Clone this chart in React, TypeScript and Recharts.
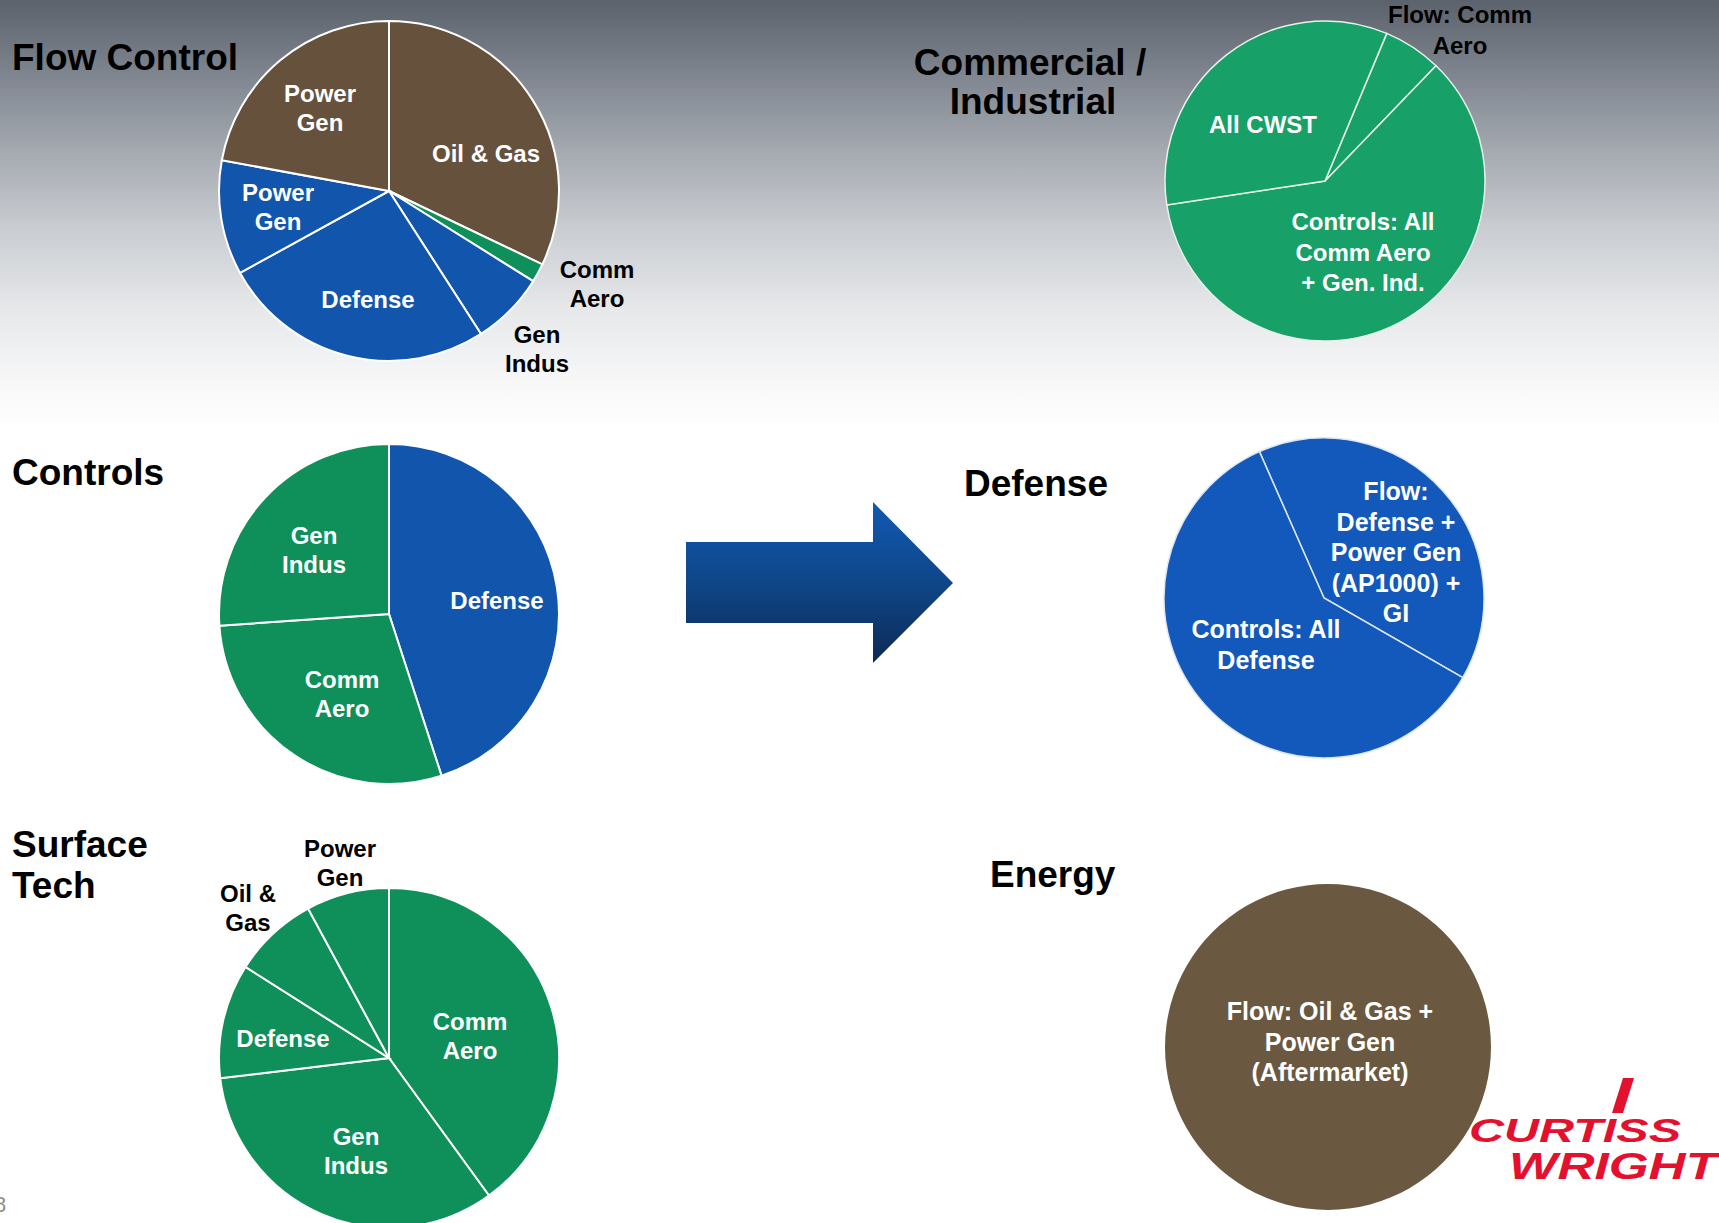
import React from 'react';
import { PieChart, Pie, Cell } from 'recharts';

const W = 1719;
const H = 1223;
const FONT = '"Liberation Sans", Arial, Helvetica, sans-serif';

// ---------- data ----------
const flowCategories = ['Oil & Gas', 'Comm\nAero', 'Gen\nIndus', 'Defense', 'Power\nGen', 'Power\nGen'];
const flowValues = [32.1, 1.8, 7.0, 26.1, 10.9, 22.1];
const flowSegments = ['Energy', 'Commercial', 'Defense', 'Defense', 'Defense', 'Energy'];

const controlsCategories = ['Defense', 'Comm\nAero', 'Gen\nIndus'];
const controlsValues = [45.0, 28.9, 26.1];
const controlsSegments = ['Defense', 'Commercial', 'Commercial'];

const surfaceCategories = ['Comm\nAero', 'Gen\nIndus', 'Defense', 'Oil &\nGas', 'Power\nGen'];
const surfaceValues = [40.0, 33.1, 10.9, 8.1, 7.9];
const surfaceSegments = ['Commercial', 'Commercial', 'Commercial', 'Commercial', 'Commercial'];

const commercialCategories = ['Flow: Comm\nAero', 'Controls: All\nComm Aero\n+ Gen. Ind.', 'All CWST'];
const commercialValues = [5.9, 60.4, 33.7];
const commercialSegments = ['Commercial', 'Commercial', 'Commercial'];

const defenseCategories = ['Flow:\nDefense +\nPower Gen\n(AP1000) +\nGI', 'Controls: All\nDefense'];
const defenseValues = [39.9, 60.1];
const defenseSegments = ['Defense', 'Defense'];

const energyCategories = ['Flow: Oil & Gas +\nPower Gen\n(Aftermarket)'];
const energyValues = [100];
const energySegments = ['Energy'];

const build = (cats: string[], vals: number[], segs: string[]) =>
  cats.map((name, i) => ({ name, value: vals[i], segment: segs[i] }));

// ---------- styles / layout ----------
const leftPalette: Record<string, string> = { Energy: '#66513d', Defense: '#1155ad', Commercial: '#0f905a' };
const rightPalette: Record<string, string> = { Energy: '#6b5840', Defense: '#1358bb', Commercial: '#17a067' };

const flowLabelPos = [[97, -29], [208, 87], [148, 152], [-21, 117], [-111, 10], [-69, -89]];
const flowLabelOut = [false, true, true, false, false, false];
const controlsLabelPos = [[108, -5], [-47, 74], [-75, -70]];
const controlsLabelOut = [false, false, false];
const surfaceLabelPos = [[81, -28], [-33, 87], [-106, -11], [-141, -156], [-49, -201]];
const surfaceLabelOut = [false, false, false, true, true];
const commercialLabelPos = [[135, -158], [38, 49], [-62, -48]];
const commercialLabelOut = [true, false, false];
const defenseLabelPos = [[72, -98], [-58, 40]];
const defenseLabelOut = [false, false];
const energyLabelPos = [[2, -27]];
const energyLabelOut = [false];

const makeLabel = (
  center: [number, number],
  pos: number[][],
  out: boolean[],
  lineH: number,
  fontSize: number
) => (props: any) => {
  const cx = typeof props.cx === 'number' ? props.cx : center[0];
  const cy = typeof props.cy === 'number' ? props.cy : center[1];
  const idx = props.index ?? 0;
  const [dx, dy] = pos[idx];
  const name = (props.payload && props.payload.name) || props.name || '';
  const lines = String(name).split('\n');
  const x = cx + dx;
  return (
    <text
      key={`lbl-${idx}`}
      x={x}
      y={cy + dy}
      textAnchor="middle"
      fill={out[idx] ? '#000000' : '#ffffff'}
      fontSize={fontSize}
      fontWeight="bold"
      fontFamily={FONT}
    >
      {lines.map((l, i) => (
        <tspan key={i} x={x} dy={i === 0 ? 0 : lineH}>
          {l}
        </tspan>
      ))}
    </text>
  );
};

type PieCfg = {
  data: { name: string; value: number; segment: string }[];
  center: [number, number];
  r: number;
  start: number;
  palette: Record<string, string>;
  pos: number[][];
  out: boolean[];
  lineH: number;
  fontSize: number;
  stroke: string;
  strokeWidth: number;
};

const pies: PieCfg[] = [
  {
    data: build(flowCategories, flowValues, flowSegments),
    center: [389, 191], r: 170, start: 90, palette: leftPalette,
    pos: flowLabelPos, out: flowLabelOut, lineH: 29, fontSize: 24, stroke: '#ffffff', strokeWidth: 2,
  },
  {
    data: build(controlsCategories, controlsValues, controlsSegments),
    center: [389, 614], r: 170, start: 90, palette: leftPalette,
    pos: controlsLabelPos, out: controlsLabelOut, lineH: 29, fontSize: 24, stroke: '#ffffff', strokeWidth: 2,
  },
  {
    data: build(surfaceCategories, surfaceValues, surfaceSegments),
    center: [389, 1058], r: 170, start: 90, palette: leftPalette,
    pos: surfaceLabelPos, out: surfaceLabelOut, lineH: 28.5, fontSize: 24, stroke: '#ffffff', strokeWidth: 2,
  },
  {
    data: build(commercialCategories, commercialValues, commercialSegments),
    center: [1325, 181], r: 160, start: 67.3, palette: rightPalette,
    pos: commercialLabelPos, out: commercialLabelOut, lineH: 30.5, fontSize: 24, stroke: '#e6f2ea', strokeWidth: 1.5,
  },
  {
    data: build(defenseCategories, defenseValues, defenseSegments),
    center: [1324, 598], r: 160, start: 113.8, palette: rightPalette,
    pos: defenseLabelPos, out: defenseLabelOut, lineH: 30.5, fontSize: 25, stroke: '#dde6f2', strokeWidth: 1.5,
  },
  {
    data: build(energyCategories, energyValues, energySegments),
    center: [1328, 1047], r: 163, start: 90, palette: rightPalette,
    pos: energyLabelPos, out: energyLabelOut, lineH: 30.5, fontSize: 25, stroke: 'none', strokeWidth: 0,
  },
];

const titleStyle = { fontFamily: FONT, fontWeight: 'bold' as const, fontSize: 37, fill: '#000' };

export default function App() {
  return (
    <div
      style={{
        position: 'absolute',
        left: 0,
        top: 0,
        width: W,
        height: H,
        overflow: 'hidden',
        background:
          'linear-gradient(to bottom, #5c626c 0px, #7d838d 70px, #a4a9b0 150px, #cacdd2 230px, #e6e8ea 310px, #f7f7f8 380px, #ffffff 430px, #ffffff 100%)',
      }}
    >
      <div style={{ position: 'absolute', left: 0, top: 0 }}>
        <PieChart width={W} height={H} margin={{ top: 0, right: 0, bottom: 0, left: 0 }}>
          {pies.map((p, pi) => (
            <Pie
              key={pi}
              data={p.data}
              dataKey="value"
              nameKey="name"
              cx={p.center[0]}
              cy={p.center[1]}
              innerRadius={0}
              outerRadius={p.r}
              startAngle={p.start}
              endAngle={p.start - 360}
              stroke={p.stroke}
              strokeWidth={p.strokeWidth}
              isAnimationActive={false}
              labelLine={false}
              label={makeLabel(p.center, p.pos, p.out, p.lineH, p.fontSize)}
            >
              {p.data.map((d, i) => (
                <Cell key={i} fill={p.palette[d.segment]} />
              ))}
            </Pie>
          ))}
        </PieChart>
      </div>
      <svg
        width={W}
        height={H}
        style={{ position: 'absolute', left: 0, top: 0, pointerEvents: 'none' }}
      >
        <defs>
          <linearGradient id="arrowGrad" x1="0" y1="502" x2="0" y2="663" gradientUnits="userSpaceOnUse">
            <stop offset="0" stopColor="#1259b2" />
            <stop offset="0.5" stopColor="#0f4688" />
            <stop offset="1" stopColor="#0d2a55" />
          </linearGradient>
        </defs>
        {/* Titles */}
        <text x={12} y={70} {...titleStyle}>Flow Control</text>
        <text x={12} y={485} {...titleStyle}>Controls</text>
        <text x={12} y={857} {...titleStyle}>Surface</text>
        <text x={12} y={898} {...titleStyle}>Tech</text>
        <text x={1030} y={75} textAnchor="middle" {...titleStyle}>Commercial /</text>
        <text x={1033} y={114} textAnchor="middle" {...titleStyle}>Industrial</text>
        <text x={964} y={496} {...titleStyle}>Defense</text>
        <text x={990} y={887} {...titleStyle}>Energy</text>

        {/* Arrow */}
        <polygon
          points="686,542 873,542 873,502 953,583 873,663 873,623 686,623"
          fill="url(#arrowGrad)"
        />

        {/* Logo */}
        <polygon points="1623,1078 1634,1078 1623,1113 1612,1113" fill="#e3102e" />
        <text
          x={1469}
          y={1142}
          fontFamily={FONT}
          fontWeight={900}
          fontStyle="italic"
          fontSize={34}
          fill="#e3102e"
          textLength={212}
          lengthAdjust="spacingAndGlyphs"
        >
          CURTISS
        </text>
        <text
          x={1509}
          y={1179}
          fontFamily={FONT}
          fontWeight={900}
          fontStyle="italic"
          fontSize={36}
          fill="#e3102e"
          textLength={208}
          lengthAdjust="spacingAndGlyphs"
        >
          WRIGHT
        </text>

        {/* page number */}
        <text x={-6} y={1212} fontFamily={FONT} fontSize={22} fill="#8c8c8c">8</text>
      </svg>
    </div>
  );
}
